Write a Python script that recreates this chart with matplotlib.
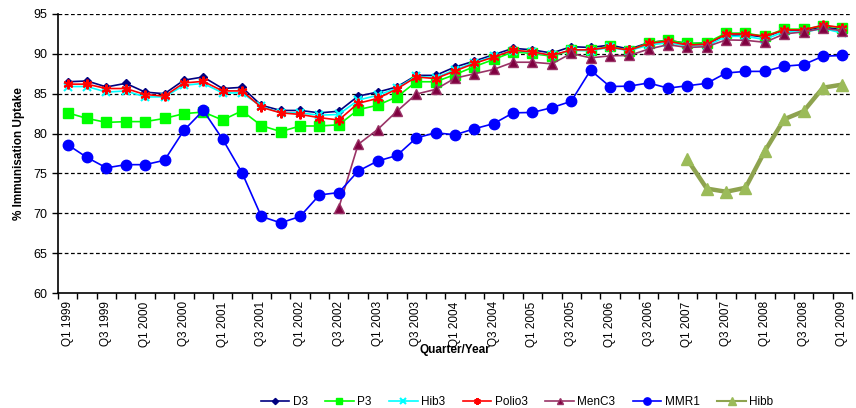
import matplotlib
matplotlib.use("Agg")
import matplotlib.pyplot as plt
import numpy as np

plt.rcParams['font.family'] = ['Liberation Sans', 'DejaVu Sans']

quarters = []
for y in range(1999, 2010):
    for q in range(1, 5):
        quarters.append(f"Q{q} {y}")
quarters = quarters[:41]

d3 = [86.5, 86.6, 85.85, 86.3, 85.2, 85.0, 86.7, 87.1, 85.65, 85.8,
      83.55, 82.9, 82.9, 82.6, 82.8, 84.7, 85.2, 85.85, 87.3, 87.3,
      88.35, 89.1, 89.9, 90.7, 90.5, 90.1, 90.9, 90.8, 91.1, 90.6,
      91.4, 91.7, 91.3, 91.3, 92.3, 92.4, 92.1, 93.0, 92.9, 93.4, 93.0]
p3 = [82.6, 81.9, 81.4, 81.5, 81.5, 81.9, 82.5, 82.7, 81.7, 82.85,
      81.0, 80.25, 80.95, 80.95, 81.1, 83.0, 83.55, 84.6, 86.5, 86.5,
      87.4, 88.4, 89.3, 90.25, 90.05, 89.7, 90.45, 90.45, 90.95, 90.4,
      91.4, 91.7, 91.3, 91.4, 92.6, 92.6, 92.2, 93.1, 93.1, 93.5, 93.3]
hib3 = [85.9, 85.9, 85.2, 85.35, 84.6, 84.6, 86.05, 86.3, 85.1, 85.1,
        83.4, 82.6, 82.6, 82.3, 82.4, 84.2, 84.8, 85.7, 87.2, 87.0,
        88.0, 88.9, 89.7, 90.4, 90.2, 89.8, 90.45, 90.4, 90.8, 90.4,
        91.1, 91.4, 91.0, 91.0, 92.2, 92.2, 91.8, 92.8, 92.7, 93.2, 92.6]
polio3 = [86.2, 86.2, 85.65, 85.65, 84.9, 84.7, 86.35, 86.55, 85.35, 85.35,
          83.3, 82.6, 82.4, 82.0, 81.7, 83.8, 84.4, 85.6, 87.1, 86.9,
          87.85, 88.8, 89.6, 90.45, 90.25, 89.8, 90.5, 90.5, 90.85, 90.45,
          91.3, 91.6, 91.1, 91.2, 92.5, 92.5, 92.2, 93.0, 93.0, 93.6, 93.3]
menc3 = [None] * 14 + [
    70.7, 78.65, 80.5, 82.8, 84.95, 85.55,
    86.95, 87.5, 88.05, 88.95, 88.95, 88.75, 90.05, 89.5, 89.75, 89.8,
    90.6, 91.15, 90.8, 90.9, 91.75, 91.7, 91.45, 92.5, 92.75, 93.2, 92.9]
mmr1 = [78.6, 77.0, 75.7, 76.1, 76.1, 76.65, 80.4, 82.9, 79.3, 75.1,
        69.6, 68.8, 69.6, 72.3, 72.6, 75.3, 76.55, 77.25, 79.45, 80.1,
        79.85, 80.6, 81.25, 82.6, 82.65, 83.25, 84.05, 87.95, 85.9, 85.95,
        86.35, 85.7, 86.0, 86.3, 87.6, 87.8, 87.8, 88.45, 88.65, 89.7, 89.8]
hibb = [None] * 32 + [76.75, 73.1, 72.7, 73.2, 77.8, 81.8, 82.8, 85.75, 86.15]

def arr(v):
    return np.array([np.nan if a is None else a for a in v], dtype=float)

x = np.arange(len(quarters))

fig = plt.figure(figsize=(8.56, 4.08), dpi=100)
ax = fig.add_axes([58 / 856, 1 - 293 / 408, (852 - 58) / 856, (293 - 14) / 408])

ax.plot(x, arr(d3), color='#000080', lw=1.2, marker='D', ms=4.5,
        mfc='#000080', mec='#000080', label='D3', zorder=3)
ax.plot(x, arr(p3), color='#00FF00', lw=1.2, marker='s', ms=6.5,
        mfc='#00FF00', mec='#00FF00', label='P3', zorder=3)
ax.plot(x, arr(hib3), color='#00FFFF', lw=1.2, marker='x', ms=6,
        mew=1.5, mec='#00FFFF', label='Hib3', zorder=3)
ax.plot(x, arr(polio3), color='#FF0000', lw=1.2, marker=(6, 2, 0), ms=7,
        mew=1.5, mec='#FF0000', label='Polio3', zorder=3)
ax.plot(x, arr(menc3), color='#993366', lw=1.2, marker='^', ms=6.5,
        mfc='#800040', mec='#993366', label='MenC3', zorder=3)
ax.plot(x, arr(mmr1), color='#0000FF', lw=1.2, marker='o', ms=7.5,
        mfc='#0000FF', mec='#0000FF', label='MMR1', zorder=3)
ax.plot(x, arr(hibb), color='#8EA34F', lw=3.2, marker='^', ms=8.5,
        mfc='#9BBB59', mec='#9BBB59', label='Hibb', zorder=3)

ax.set_xlim(-0.5, len(quarters) - 0.5)
ax.set_ylim(60, 95)
ax.set_yticks(np.arange(60, 96, 5))
for v in np.arange(65, 96, 5):
    ax.axhline(v, color='black', lw=0.9, ls=(0, (3, 2)), zorder=1)

ax.set_xticks(x[::2])
ax.set_xticklabels(quarters[::2], rotation=90, fontsize=8.5)
ax.set_xticks(np.arange(-0.5, len(quarters), 1), minor=True)
ax.tick_params(axis='x', which='major', length=0, pad=6)
ax.tick_params(axis='x', which='minor', length=4, width=1, direction='out')
ax.tick_params(axis='y', length=4, width=1, direction='out', labelsize=9)

for s in ['top', 'right']:
    ax.spines[s].set_visible(False)
for s in ['left', 'bottom']:
    ax.spines[s].set_linewidth(1.2)

ax.set_ylabel('% Immunisation Uptake', fontsize=8.5, fontweight='bold', labelpad=6)
ax.set_xlabel('Quarter/Year', fontsize=8.5, fontweight='bold', labelpad=-2)

leg = fig.legend(loc='center', bbox_to_anchor=(517 / 856, 1 - 402 / 408), ncol=7,
                 frameon=False, fontsize=8.5, handlelength=2.4, columnspacing=1.5,
                 handletextpad=0.3, markerscale=0.7)
for line in leg.get_lines():
    if line.get_label() == 'Hibb':
        line.set_linewidth(1.5)

fig.savefig('out.png', dpi=100)
